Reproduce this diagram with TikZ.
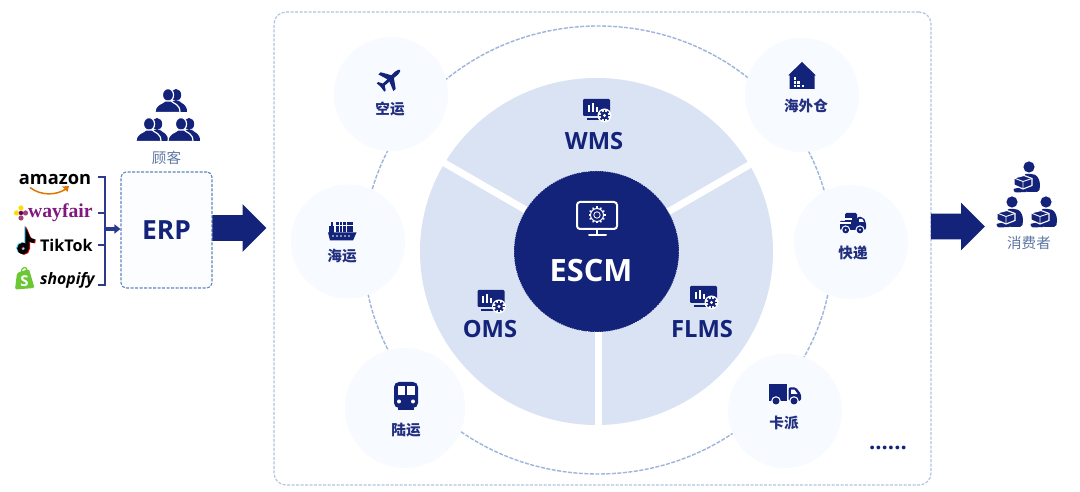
\documentclass[tikz,border=0pt]{standalone}
\usepackage{fontspec}
\setmainfont{Open Sans}
\newfontfamily\cjk{Noto Sans CJK SC}
\newfontfamily\serifbold{Liberation Serif}
\usetikzlibrary{positioning,arrows.meta,shapes.arrows,shapes.geometric}
\usepackage{xcolor}
\definecolor{navy}{HTML}{14237A}
\definecolor{labelnavy}{HTML}{22307F}
\definecolor{softtext}{HTML}{5F77A3}
\definecolor{discblue}{HTML}{D9E3F3}
\definecolor{satblue}{HTML}{F7FAFF}
\definecolor{dashblue}{HTML}{9DB4DC}
\definecolor{erpdash}{HTML}{5F86BE}
\definecolor{busblue}{HTML}{2B3A8E}
\definecolor{erpfill}{HTML}{FBFDFF}
\newcommand{\pxu}{0.02cm}

\begin{document}
\begin{tikzpicture}[
  x=0.02cm, y=-0.02cm,
  node distance=0.1cm,
  framebox/.style={draw=dashblue!80!white, dash pattern=on 3*\pxu off 1.5*\pxu, line width=1.2*\pxu, rounded corners=12*\pxu, fill=white, inner sep=0, minimum width=657*\pxu, minimum height=473*\pxu},
  ringline/.style={ellipse, draw=dashblue, dash pattern=on 4*\pxu off 1.5*\pxu, line width=1.4*\pxu, inner sep=0, minimum width=469*\pxu, minimum height=448*\pxu},
  sat/.style={circle, fill=satblue, inner sep=0, minimum size=114*\pxu},
  disc/.style={ellipse, fill=discblue, inner sep=0, minimum width=353*\pxu, minimum height=347*\pxu},
  gapline/.style={white, line width=7*\pxu},
  hub/.style={ellipse, fill=navy, draw=white, densely dotted, line width=0.6*\pxu, inner sep=0, minimum width=165*\pxu, minimum height=161*\pxu},
  hubtext/.style={text=white, font=\fontsize{17.5}{20}\selectfont\bfseries, inner sep=0},
  opstext/.style={text=navy, font=\fontsize{13.5}{16}\selectfont\bfseries, inner sep=0},
  satlabel/.style={text=labelnavy, font=\fontsize{8.3}{10}\selectfont\cjk\bfseries, inner sep=0},
  softlabel/.style={text=softtext, font=\fontsize{8.3}{10}\selectfont\cjk, inner sep=0},
  erpbox/.style={draw=erpdash, dash pattern=on 3*\pxu off 1.5*\pxu, line width=1.1*\pxu, fill=erpfill, rounded corners=5*\pxu, text=navy, font=\fontsize{15}{18}\selectfont\bfseries, inner sep=0, minimum width=91*\pxu, minimum height=116*\pxu},
  bigarrow/.style={single arrow, fill=navy, inner sep=0, inner ysep=12.5*\pxu, minimum width=47*\pxu, minimum height=54*\pxu, single arrow head extend=11*\pxu},
  logo/.style={anchor=east, inner ysep=0, inner xsep=5*\pxu},
  busline/.style={busblue, line width=1.3*\pxu},
  busarrow/.style={-{Triangle[length=6*\pxu,width=9*\pxu]}, busblue, line width=4*\pxu},
  pics/geartiny/.style={code={
    \fill[white] (0,0) circle (7);
    \foreach \a in {0,45,...,315} \draw[navy, line width=1.8*\pxu] (\a:3.5) -- (\a:5.6);
    \fill[navy] (0,0) circle (4);
    \fill[white] (0,0) circle (1.7);
  }},
  pics/dashicon/.style={code={
    \fill[navy, rounded corners=1.2*\pxu] (-13.5,-11) rectangle (13.5,6);
    \fill[white] (-9,-5) rectangle (-7,2);
    \fill[white] (-5,-7) rectangle (-3,2);
    \fill[white] (-1,-3) rectangle (1,2);
    \fill[navy] (-10,8.5) rectangle (4,10.3);
    \pic at (8,5.5) {geartiny};
  }},
  pics/monitoricon/.style={code={
    \draw[white, line width=2*\pxu, rounded corners=3*\pxu] (-20,-14) rectangle (20,13);
    \draw[white, line width=2*\pxu] (0,13) -- (0,19);
    \draw[white, line width=2*\pxu, line cap=round] (-8,19.5) -- (9,19.5);
    \foreach \a in {0,30,...,330} \draw[white, line width=1.4*\pxu] ([shift={(0,-1)}]\a:6.5) -- ([shift={(0,-1)}]\a:8.5);
    \draw[white, line width=1*\pxu] (0,-1) circle (6.5);
    \draw[white, line width=0.8*\pxu] (0,-1) circle (3.2);
  }},
  pics/planeicon/.style={code={
    \begin{scope}[rotate=42, scale=0.8]
    \fill[navy] (-15,-1.5) -- (11,-2.6) .. controls (15,-2.4) and (17,-1) .. (17,0) .. controls (17,1) and (15,2.4) .. (11,2.6) -- (-15,1.5) -- cycle;
    \fill[navy] (5,-1.5) -- (-3,-14) -- (-7,-14) -- (-2.5,-1.5) -- cycle;
    \fill[navy] (5,1.5) -- (-3,14) -- (-7,14) -- (-2.5,1.5) -- cycle;
    \fill[navy] (-10,-1) -- (-13.5,-7) -- (-16,-7) -- (-15,0) -- (-16,7) -- (-13.5,7) -- (-10,1) -- cycle;
    \end{scope}
  }},
  pics/shipicon/.style={code={
    \fill[navy] (-14,1.5) -- (14.5,1.5) -- (11,9.5) -- (-12,9.5) -- cycle;
    \fill[navy] (-13,-5) rectangle (-8,2);
    \fill[navy] (-11.5,-9) rectangle (-9.5,-5);
    \foreach \cx in {-6,-2.4,1.2,4.8,8.4} \foreach \cy in {-8.5,-5,-1.5}
      \fill[navy] (\cx,\cy) rectangle +(2.7,2.7);
    \foreach \cx in {-9,-5,-1,3,7} \fill[white] (\cx,5) circle (0.9);
  }},
  pics/houseicon/.style={code={
    \fill[navy] (0,-14) -- (14,-0.5) -- (12.5,-0.5) -- (12.5,13) -- (-12.5,13) -- (-12.5,-0.5) -- (-14,-0.5) -- cycle;
    \foreach \wx/\wy in {-7.3/2.3,-7.3/6.3,-3.6/6.3,-7.3/10,-3.6/10,0.7/10}
      \fill[white] (\wx-1.2,\wy-1.2) rectangle +(2.5,2.5);
  }},
  pics/expressicon/.style={code={
    \fill[navy, rounded corners=1.5*\pxu] (-8,-10) rectangle (4,7);
    \fill[navy, rounded corners=2*\pxu] (4,-6) -- (10,-6) -- (13,-1) -- (13,7) -- (4,7) -- cycle;
    \fill[navy, rounded corners=1*\pxu] (-13,-2) rectangle (0,7);
    \fill[white] (6,-4) -- (9.3,-4) -- (11,-1) -- (6,-1) -- cycle;
    \draw[white, line width=1.2*\pxu] (-13,-4) -- (-1,-4);
    \draw[white, line width=1.2*\pxu] (-14,0) -- (-2,0);
    \foreach \wx in {-7.3,7} {\fill[white] (\wx,7) circle (4.6); \fill[navy] (\wx,7) circle (3.4); \fill[white] (\wx,7) circle (1);}
  }},
  pics/lorryicon/.style={code={
    \fill[navy] (-16,-10) rectangle (2,7);
    \fill[navy, rounded corners=1.5*\pxu] (3.5,-6.5) -- (11,-6.5) -- (16,0) -- (16,7) -- (3.5,7) -- cycle;
    \fill[white] (6,-4.3) -- (9.5,-4.3) -- (12.6,0) -- (6,0) -- cycle;
    \foreach \wx in {-9,9} {\fill[white] (\wx,7) circle (4.8); \fill[navy] (\wx,7) circle (3.5);}
  }},
  pics/trainicon/.style={code={
    \fill[navy, rounded corners=5*\pxu] (-12,-14) rectangle (12,12);
    \fill[navy] (-8,12) rectangle (8,14.5);
    \fill[white] (-8.5,-9.5) rectangle (-1.2,-1);
    \fill[white] (1.2,-9.5) rectangle (8.5,-1);
    \fill[white] (-7,5.5) circle (2);
    \fill[white] (7,5.5) circle (2);
  }},
  pics/personicon/.style={code={
    \begin{scope}[xshift=6*\pxu]
    \fill[navy] (0,-6) ellipse (5.2 and 6);
    \fill[navy] (-3,0) -- (3,0) .. controls (6,3) and (11,3) .. (11,11) -- (-10,11) .. controls (-10,3) and (-6,3) .. (-3,0) -- cycle;
    \end{scope}
    \draw[white, line width=1.2*\pxu, fill=navy] (-2,-6) ellipse (5.6 and 6.4);
    \draw[white, line width=1.2*\pxu, fill=navy] (-5,0) -- (1,0) .. controls (4,3) and (10,3) .. (10,11.5) -- (-15,11.5) .. controls (-15,3) and (-8,3) .. (-5,0) -- cycle;
  }},
  pics/buyericon/.style={code={
    \fill[navy] (0,0) circle (5.6);
    \fill[navy, rounded corners=2*\pxu] (-5,7) -- (4,7) .. controls (9,9) and (11,14) .. (11,20) -- (10,25) -- (-3,25) -- (-3,19) -- (-3,10) -- cycle;
    \fill[navy, rounded corners=1*\pxu] (-16,22) -- (-2,19) -- (-2,25) -- (-14,25.5) -- cycle;
    \draw[white, line width=1.1*\pxu, fill=navy] (-15,11) -- (-5,8.5) -- (3,11.5) -- (3,18.5) -- (-6,22) -- (-15,18) -- cycle;
    \draw[white, line width=0.9*\pxu] (-15,11) -- (-6,14.5) -- (3,11.5) (-6,14.5) -- (-6,22);
  }},
  pics/noteicon/.style={code={
    \draw[line width=3.8*\pxu] (-3,4.5) circle (3.8);
    \draw[line width=3.8*\pxu] (1.2,4.5) -- (1.2,-8.5) .. controls (2,-5) and (5,-3) .. (8.5,-3);
  }}
]
\useasboundingbox (0,0) rectangle (1080,492);

\node[framebox] (frame) at (602.5,248.5) {};
\node[ringline] (ring) at (598,250) {};
\node[sat] (air) at (391,94) {};
\node[sat] (sea) at (348,241.5) {};
\node[sat, minimum size=120*\pxu] (rail) at (405,408) {};
\node[sat] (depot) at (802,95) {};
\node[sat] (express) at (851,242) {};
\node[sat] (lorry) at (785,411) {};

\node[disc] (core) at (596.5,251.5) {};
\foreach \a in {-30,210,90} \draw[gapline] (598.5,252) -- ++(\a:182);
\node[hub] (escm) at (596.5,251.5) {};
\pic at (597,216) {monitoricon};
\node[hubtext] (escmtext) at (591,270.5) {ESCM};

\pic at (596.5,110) {dashicon};
\node[opstext] (wms) at (594,141) {WMS};
\pic at (491,301) {dashicon};
\node[opstext] (oms) at (490,329) {OMS};
\pic at (703.5,297) {dashicon};
\node[opstext] (flms) at (702,329) {FLMS};

\pic at (390,79) {planeicon};
\node[satlabel] (airlabel) at (390,109) {空运};
\pic at (342,231) {shipicon};
\node[satlabel] (sealabel) at (342,256) {海运};
\pic at (406,396) {trainicon};
\node[satlabel] (raillabel) at (406,430) {陆运};
\pic at (802,76) {houseicon};
\node[satlabel] (depotlabel) at (806,106) {海外仓};
\pic at (853,223) {expressicon};
\node[satlabel] (expresslabel) at (853,253) {快递};
\pic at (785,394) {lorryicon};
\node[satlabel] (lorrylabel) at (784,423) {卡派};
\node[anchor=base, text=navy, font=\fontsize{12.5}{14}\selectfont\bfseries, inner sep=0] (more) at (888,449.5) {......};

\node[erpbox] (erp) at (166.5,230) {ERP};
\pic at (170,101) {personicon};
\pic at (151,130) {personicon};
\pic at (183,130) {personicon};
\node[softlabel, above=0.12cm of erp] (customer) {顾客};

\node[logo, inner xsep=6.5*\pxu, font=\fontsize{10.4}{12}\selectfont\bfseries] (amazon) at (98,180) {amazon};
\node[logo, text={rgb,255:red,127;green,24;blue,127}, font=\fontsize{11.2}{13}\selectfont\serifbold\bfseries] (wayfair) at (98,213) {wayfair};
\node[logo, font=\fontsize{9.2}{11}\selectfont\bfseries] (tiktok) at (98,245) {TikTok};
\node[logo, inner xsep=3*\pxu, font=\fontsize{9}{11}\selectfont\bfseries\itshape] (shopify) at (98,280) {shopify};

\draw[orange!90!black, line width=1.5*\pxu] (30,187.5) .. controls (41,196) and (56,195.5) .. (66,189);
\fill[orange!90!black] (62,186.5) -- (69,186) -- (67.5,192) -- cycle;
\foreach \px/\py/\pc in {21/208/yellow!80!orange,16.5/213/yellow!80!orange,25.5/213/magenta!60!black,21/218/magenta!60!black}
  \fill[\pc] (\px,\py) circle (2.6);
\fill[violet!80!black] (21,213) circle (2.2);
\pic[cyan!70!white] at (25,243.5) {noteicon};
\pic[red!85!black] at (27,244.5) {noteicon};
\pic[black] at (26,244) {noteicon};
\fill[green!45!olive!80!white, rounded corners=1.5*\pxu] (17,273) -- (29,269) -- (34.5,288) -- (15,289.5) -- cycle;
\draw[green!45!olive!80!white, line width=1.2*\pxu] (21,273) .. controls (21,267) and (27,265) .. (27,271);
\node[text=white, font=\fontsize{8.5}{10}\selectfont\bfseries, inner sep=0] (shopifyS) at (24.5,281) {S};

\coordinate (bus) at (105,229);
\draw[busline] ([yshift=3*\pxu]amazon.east) -| (bus) |- ([yshift=-5*\pxu]shopify.east);
\draw[busline] (wayfair.east) -- (wayfair.east -| bus);
\draw[busline] (tiktok.east) -- (tiktok.east -| bus);
\draw[busarrow] (bus) -- (erp.west |- bus);

\node[bigarrow] (erpout) at (233,228) {};
\node[bigarrow] (frameout) at (951.5,226.5) {};

\pic at (1029,167) {buyericon};
\pic at (1012,202) {buyericon};
\pic at (1046,202) {buyericon};
\node[softlabel] (buyer) at (1029,243) {消费者};
\end{tikzpicture}
\end{document}
